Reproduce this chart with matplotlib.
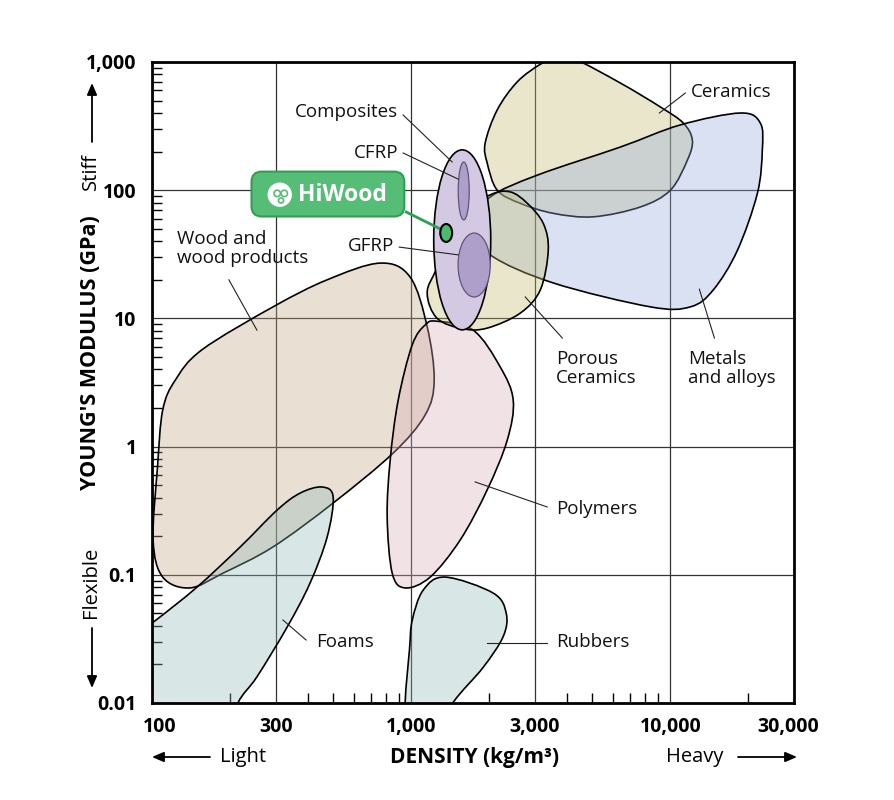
import numpy as np
import matplotlib
matplotlib.use("Agg")
import matplotlib.pyplot as plt
import matplotlib.transforms as mtransforms
from matplotlib.path import Path
from matplotlib.patches import PathPatch, Ellipse, FancyBboxPatch, Circle, FancyArrowPatch
from matplotlib.ticker import LogLocator, NullFormatter

plt.rcParams['font.family'] = ['Open Sans', 'DejaVu Sans']

# outlines: density (kg/m3) and Young's modulus (GPa)
wood_density = [759, 991, 1153, 1227, 1133, 852, 500, 293, 188, 140, 110, 101, 105, 110, 123, 156, 293, 474]
wood_modulus = [27, 21, 8.6, 3.3, 1.77, 0.89, 0.363, 0.165, 0.103, 0.079, 0.096, 0.187, 0.69, 1.93, 3.3, 5.7, 12.3, 20]

foams_density = [453, 500, 474, 407, 332, 254, 215, 190, 70, 70, 100, 149, 219, 304, 373]
foams_modulus = [0.484, 0.405, 0.197, 0.086, 0.039, 0.016, 0.0101, 0.005, 0.005, 0.025, 0.042, 0.080, 0.165, 0.32, 0.434]

polymers_density = [1260, 1735, 2206, 2476, 2347, 1965, 1546, 1184, 948, 845, 808, 830, 891, 1009, 1133]
polymers_modulus = [9.5, 8.1, 4.18, 2.3, 1.12, 0.46, 0.187, 0.096, 0.079, 0.103, 0.283, 0.786, 2.3, 6.2, 8.9]

rubbers_density = [1353, 2073, 2327, 2265, 1897, 1452, 1200, 960, 948, 985, 1009, 1113]
rubbers_modulus = [0.096, 0.072, 0.050, 0.033, 0.019, 0.0101, 0.005, 0.005, 0.0101, 0.026, 0.044, 0.076]

ceramics_density = [3650, 4250, 6410, 9150, 11220, 12160, 11640, 10000, 7660, 5040, 3535, 2636, 2148, 1965, 1930, 2148, 2566, 3150]
ceramics_modulus = [1080, 1060, 686, 446, 334, 246, 172, 100, 74, 62, 66, 79, 100, 163, 233, 423, 700, 960]

metals_density = [1690, 2018, 3065, 6410, 10930, 18640, 22240, 22640, 21680, 18150, 14650, 11940, 8380, 3535, 2018]
metals_modulus = [53.5, 88.5, 131, 217, 323, 400, 334, 206, 95, 34, 16.7, 12.3, 12.3, 18.9, 31.3]

porous_density = [2411, 2806, 3235, 3380, 3150, 2636, 1965, 1588, 1260, 1153, 1260, 1546, 2018]
porous_modulus = [97, 79, 55, 34, 16.7, 11, 8.4, 8.3, 10, 15.8, 25, 64, 92]

# ellipses: centre (density, modulus) and size in decades (density, modulus)
composites_centre = (1574, 41)
composites_size = (0.220, 1.404)
cfrp_centre = (1595, 98.6)
cfrp_size = (0.0425, 0.452)
gfrp_centre = (1750, 26.1)
gfrp_size = (0.124, 0.499)
hiwood_centre = (1365, 46.4)
hiwood_size = (0.046, 0.14)

density_ticks = [100, 300, 1000, 3000, 10000, 30000]
density_labels = ['100', '300', '1,000', '3,000', '10,000', '30,000']
modulus_ticks = [0.01, 0.1, 1, 10, 100, 1000]
modulus_labels = ['0.01', '0.1', '1', '10', '100', '1,000']


def rgba(hexcol, a):
    # colour that shows as hexcol over white at alpha a
    t = np.array(matplotlib.colors.to_rgb(hexcol))
    return tuple(np.clip(1 - (1 - t) / a, 0, 1)) + (a,)


def blob_path(dens, mod):
    # smooth closed outline through the points (catmull-rom in log space)
    p = np.column_stack([np.log10(dens), np.log10(mod)])
    n = len(p)
    verts = [p[0]]
    codes = [Path.MOVETO]
    for i in range(n):
        p0, p1, p2, p3 = p[i - 1], p[i], p[(i + 1) % n], p[(i + 2) % n]
        verts += [p1 + (p2 - p0) / 6, p2 - (p3 - p1) / 6, p2]
        codes += [Path.CURVE4] * 3
    verts.append(p[0])
    codes.append(Path.CLOSEPOLY)
    return Path(10 ** np.array(verts), codes)


fig = plt.figure(figsize=(8.94, 8), dpi=100)
ax = fig.add_axes([152 / 894, 97 / 800, 642 / 894, 641 / 800])
ax.set_xscale('log')
ax.set_yscale('log')
ax.set_xlim(100, 30000)
ax.set_ylim(0.01, 1000)

ax.set_xticks(density_ticks, density_labels)
ax.set_yticks(modulus_ticks, modulus_labels)
ax.xaxis.set_minor_locator(LogLocator(base=10, subs=np.arange(2, 10)))
ax.yaxis.set_minor_locator(LogLocator(base=10, subs=np.arange(2, 10)))
ax.xaxis.set_minor_formatter(NullFormatter())
ax.yaxis.set_minor_formatter(NullFormatter())
ax.tick_params(which='major', length=0, labelsize=14, pad=11)
ax.tick_params(axis='x', which='major', pad=10)
ax.tick_params(which='minor', direction='in', length=7, width=1, color='black')
for lab in ax.get_xticklabels() + ax.get_yticklabels():
    lab.set_fontweight('bold')
ax.grid(which='major', color='#333333', lw=0.9)
ax.set_axisbelow(True)
for s in ax.spines.values():
    s.set_linewidth(2.0)
    s.set_color('black')

shapes = [
    (wood_density, wood_modulus, '#e9dfd2'),
    (foams_density, foams_modulus, '#d9e6e6'),
    (polymers_density, polymers_modulus, '#f1e2e7'),
    (rubbers_density, rubbers_modulus, '#d9e6e6'),
    (ceramics_density, ceramics_modulus, '#eae7cc'),
    (metals_density, metals_modulus, '#d9e1f2'),
    (porous_density, porous_modulus, '#eae7cc'),
]
for d, m, col in shapes:
    ax.add_patch(PathPatch(blob_path(d, m), facecolor=rgba(col, 0.35),
                           edgecolor='black', lw=1.2, zorder=1))

logspace = ax.transLimits + ax.transAxes
ax.add_patch(Ellipse(np.log10(composites_centre), *composites_size, transform=logspace,
                     facecolor='#d4c9e2', edgecolor='black', lw=1.2, zorder=2))
for c, sz in [(cfrp_centre, cfrp_size), (gfrp_centre, gfrp_size)]:
    ax.add_patch(Ellipse(np.log10(c), *sz, transform=logspace,
                         facecolor='#ae9fca', edgecolor='#5f5575', lw=0.9, zorder=3))

# leader lines and labels
leaders = [
    ((931, 386), (1439, 166)),
    ((931, 195), (1519, 122)),
    ((899, 36), (1519, 31.3)),
    ((198, 20), (254, 8.1)),
    ((320, 0.0444), (393, 0.031)),
    ((1766, 0.53), (3350, 0.338)),
    ((1965, 0.0294), (3350, 0.0294)),
    ((2754, 14.7), (3830, 7.03)),
    ((12940, 16.9), (14790, 7.03)),
    ((9070, 400), (11430, 573)),
]
for a, b in leaders:
    ax.plot([a[0], b[0]], [a[1], b[1]], color='#222222', lw=0.8, zorder=4)

labels = [
    ('Composites', 890, 407, 'right'),
    ('CFRP', 890, 195, 'right'),
    ('GFRP', 860, 36.7, 'right'),
    ('Wood and\nwood products', 125, 35, 'left'),
    ('Foams', 430, 0.030, 'left'),
    ('Polymers', 3630, 0.326, 'left'),
    ('Rubbers', 3630, 0.030, 'left'),
    ('Porous\nCeramics', 3630, 4.07, 'left'),
    ('Metals\nand alloys', 11730, 4.07, 'left'),
    ('Ceramics', 12050, 583, 'left'),
]
for txt, x, y, ha in labels:
    ax.text(x, y, txt, ha=ha, va='center', fontsize=13.5, color='#111111',
            linespacing=1.12, zorder=6)

# HiWood callout
green = '#55bd76'
ax.plot([957, 1318], [67.6, 49], color='#2e9e55', lw=2, zorder=4)
ax.add_patch(Ellipse(np.log10(hiwood_centre), *hiwood_size, transform=logspace,
                     facecolor='#4cbb6c', edgecolor='black', lw=1.5, zorder=5))
ax.add_patch(FancyBboxPatch((0.155, 0.759), 0.238, 0.070, transform=ax.transAxes,
                            boxstyle='round,pad=0,rounding_size=0.016',
                            facecolor=green, edgecolor='#2f9e55', lw=1.5, zorder=7))
ax.add_patch(Circle((0.199, 0.793), 0.019, transform=ax.transAxes,
                    facecolor='white', edgecolor='none', zorder=8))
ax.add_patch(Circle((0.195, 0.795), 0.005, transform=ax.transAxes,
                    facecolor='none', edgecolor=green, lw=1.2, zorder=9))
ax.add_patch(Circle((0.206, 0.795), 0.005, transform=ax.transAxes,
                    facecolor='none', edgecolor=green, lw=1.2, zorder=9))
ax.add_patch(Circle((0.201, 0.784), 0.004, transform=ax.transAxes,
                    facecolor='none', edgecolor=green, lw=1.2, zorder=9))
ax.text(0.228, 0.792, 'HiWood', transform=ax.transAxes, ha='left', va='center',
        fontsize=16.5, fontweight='bold', color='white', zorder=9)

# nudge first and last density labels inward
xt = ax.get_xticklabels()
xt[0].set_transform(xt[0].get_transform() + mtransforms.ScaledTranslation(0.08, 0, fig.dpi_scale_trans))
xt[-1].set_transform(xt[-1].get_transform() + mtransforms.ScaledTranslation(-0.06, 0, fig.dpi_scale_trans))

# axis titles and direction hints
W, H = 894, 800
fig.text(91 / W, 1 - 353 / H, "YOUNG'S MODULUS (GPa)", rotation=90, ha='center', va='center',
         fontsize=15.5, fontweight='bold')
fig.text(475 / W, 1 - 757 / H, 'DENSITY (kg/m³)', ha='center', va='center',
         fontsize=15, fontweight='bold')
fig.text(91 / W, 1 - 171 / H, 'Stiff', rotation=90, ha='center', va='center', fontsize=14.5)
fig.text(91 / W, 1 - 582 / H, 'Flexible', rotation=90, ha='center', va='center', fontsize=14.5)
fig.text(243 / W, 1 - 757 / H, 'Light', ha='center', va='center', fontsize=14.5)
fig.text(695 / W, 1 - 757 / H, 'Heavy', ha='center', va='center', fontsize=14.5)

arrows = [
    ((92, 142), (92, 83)),
    ((92, 628), (92, 688)),
    ((210, 757), (152, 757)),
    ((738, 757), (797, 757)),
]
for (x0, y0), (x1, y1) in arrows:
    fig.patches.append(FancyArrowPatch((x0 / W, 1 - y0 / H), (x1 / W, 1 - y1 / H),
                                       transform=fig.transFigure, figure=fig,
                                       arrowstyle='-|>,head_length=7,head_width=3',
                                       color='black', lw=1.3, shrinkA=0, shrinkB=0))

fig.savefig('out.png', dpi=100)
